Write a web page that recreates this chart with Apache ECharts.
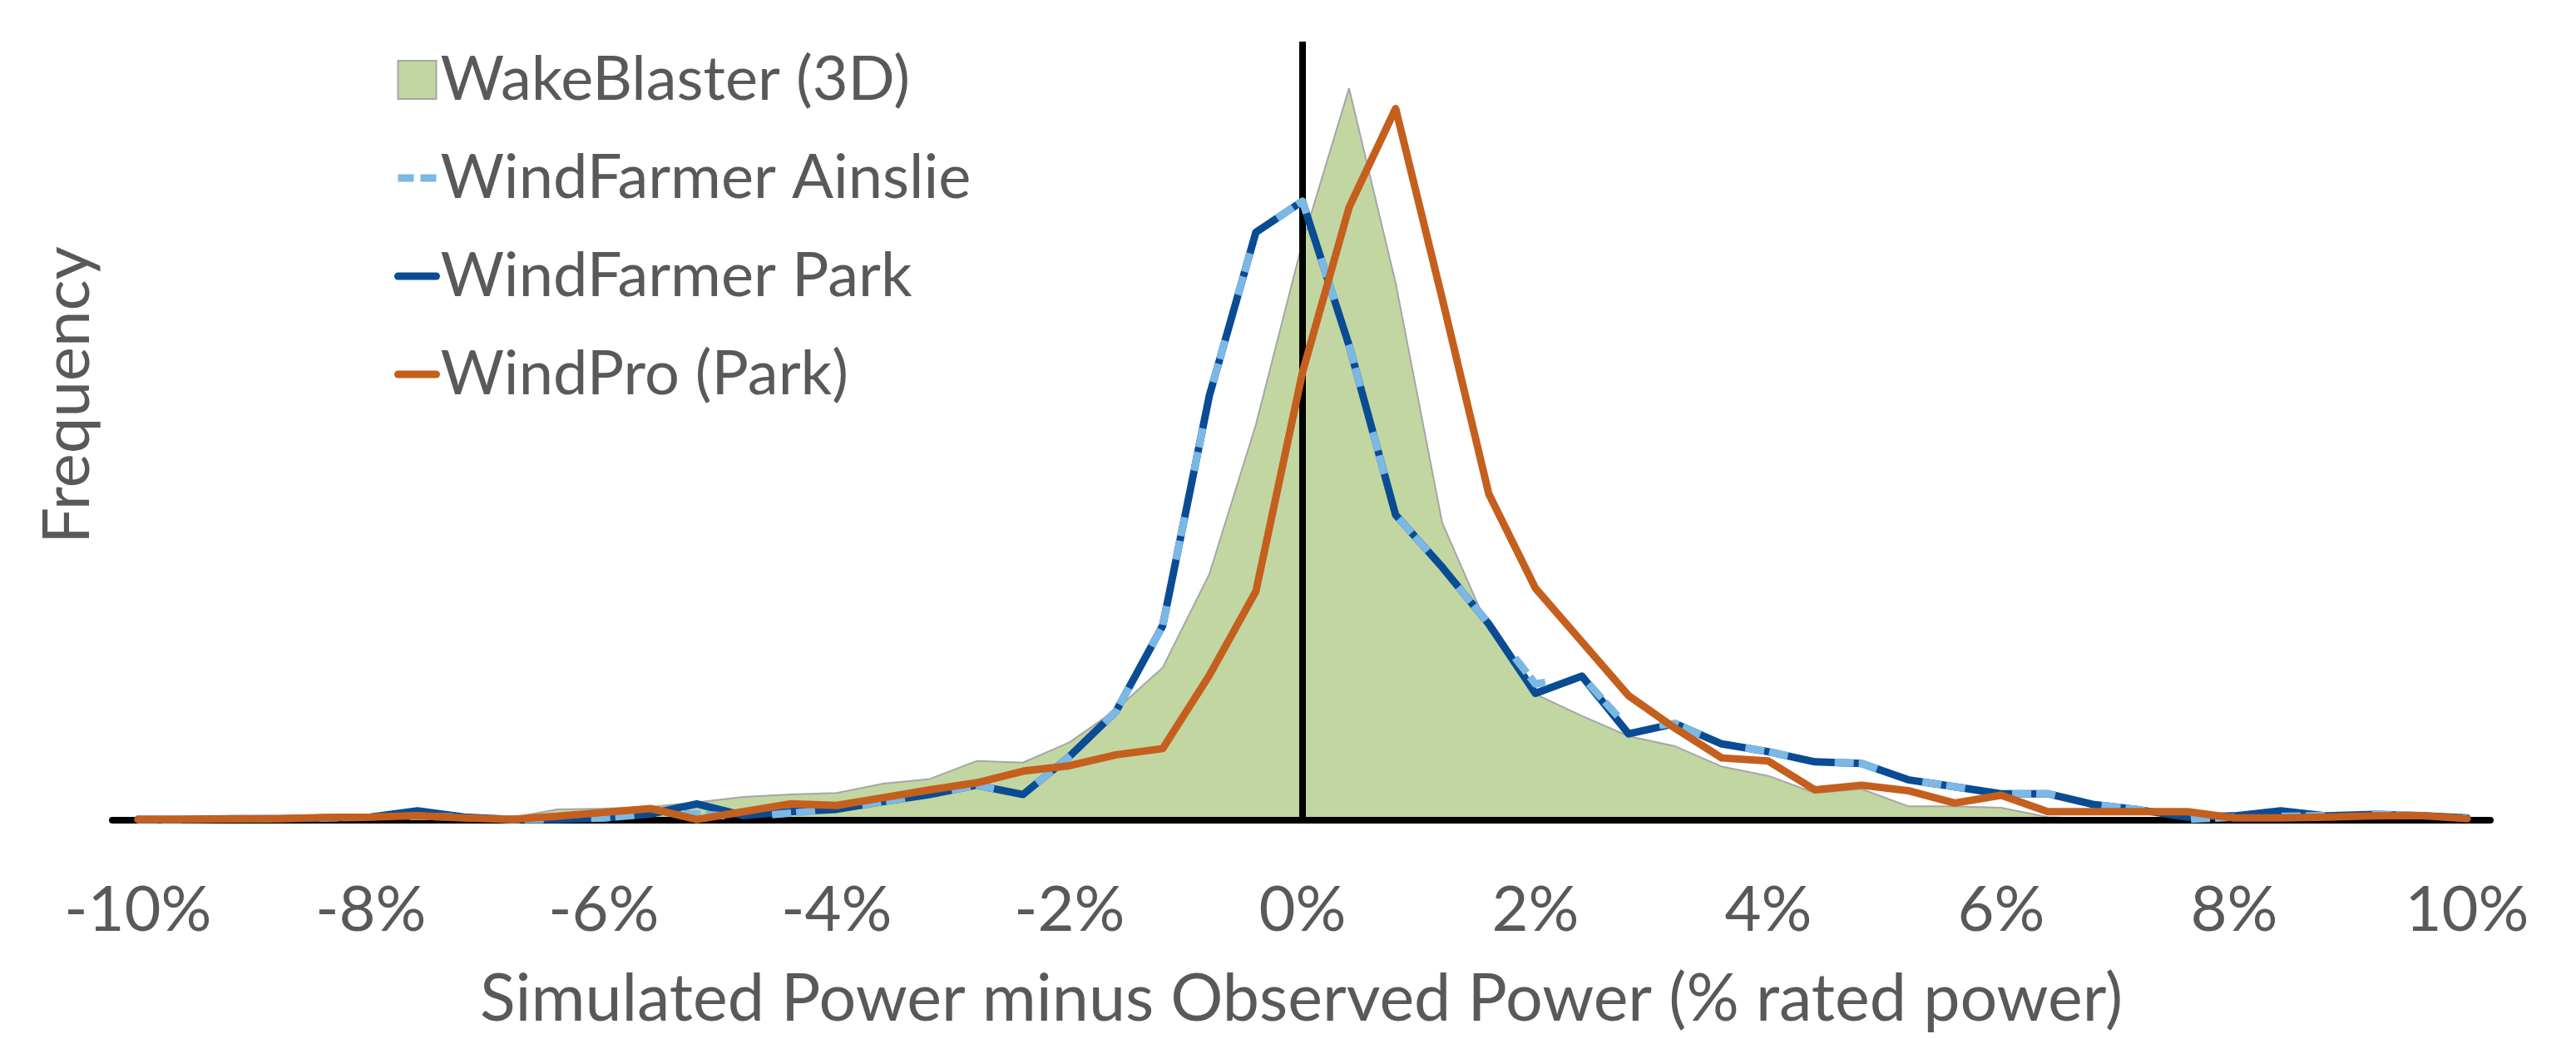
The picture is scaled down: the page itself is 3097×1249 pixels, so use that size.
<!DOCTYPE html>
<html>
<head>
<meta charset="utf-8">
<script src="https://cdn.jsdelivr.net/npm/echarts@6/dist/echarts.min.js"></script>
<style>
html,body{margin:0;padding:0;background:#ffffff;}
#chart{width:3097px;height:1249px;}
</style>
</head>
<body>
<div id="chart"></div>
<script>
// Bin centres (% rated power)
const bins = [-10,-9.6,-9.2,-8.8,-8.4,-8,-7.6,-7.2,-6.8,-6.4,-6,-5.6,-5.2,-4.8,-4.4,-4,-3.6,-3.2,-2.8,-2.4,-2,-1.6,-1.2,-0.8,-0.4,0,0.4,0.8,1.2,1.6,2,2.4,2.8,3.2,3.6,4,4.4,4.8,5.2,5.6,6,6.4,6.8,7.2,7.6,8,8.4,8.8,9.2,9.6,10];

// Frequency (relative units)
const wakeBlaster = [0.1,0.1,0.1,0.15,0.2,0.3,0.4,0.2,0.3,1.4,1.5,1.7,2.3,3.0,3.3,3.5,4.7,5.3,7.6,7.4,10.0,14.2,19.6,31.6,50.8,74.2,94.0,69.0,38.2,24.5,16.2,13.4,10.8,9.5,6.9,5.7,3.5,4.0,1.8,1.8,1.6,0.4,0.2,0.1,0.1,0.1,0.1,0.1,0.1,0.1,0.1];
const windFarmerAinslie = [0.1,0.1,0.2,0.2,0.3,0.4,0.5,0.4,0.1,0.1,0.3,0.8,0.8,0.4,0.9,1.4,2.4,3.3,4.5,3.3,8.2,14.0,25.0,54.5,75.5,79.5,61.0,39.2,32.5,25.2,17.5,18.5,11.8,12.4,9.8,8.8,7.5,7.3,5.2,4.3,3.4,3.4,2.0,1.3,0.1,0.4,0.5,0.6,0.8,0.6,0.3];
const windFarmerPark = [0.1,0.1,0.2,0.2,0.3,0.4,1.2,0.4,0.1,0.1,0.3,0.8,2.1,0.6,1.1,1.4,2.4,3.3,4.5,3.3,8.2,14.0,25.0,54.5,75.5,79.5,61.0,39.2,32.5,25.2,16.3,18.5,11.1,12.4,9.8,8.8,7.5,7.3,5.2,4.3,3.4,3.4,2.0,1.3,0.4,0.55,1.2,0.55,0.75,0.6,0.3];
const windPro = [0.1,0.1,0.15,0.2,0.35,0.4,0.6,0.3,0.1,0.5,1.0,1.5,0.1,1.1,2.1,1.9,2.9,3.9,4.8,6.3,7.0,8.4,9.2,18.6,29.4,57.5,78.7,91.4,67.0,41.9,29.8,22.9,16.0,11.8,8.0,7.6,3.9,4.5,3.8,2.2,3.2,1.1,1.1,1.1,1.1,0.3,0.3,0.4,0.55,0.6,0.2];

// Axis tick labels and texts
const tickValues = [-10,-8,-6,-4,-2,0,2,4,6,8,10];
const seriesNames = ['WakeBlaster (3D)','WindFarmer Ainslie','WindFarmer Park','WindPro (Park)'];
const xAxisTitle = 'Simulated Power minus Observed Power (% rated power)';
const yAxisTitle = 'Frequency';

function pairs(vals){ return bins.map(function(b,i){ return [b, vals[i]]; }); }

const FONT = 'Lato';
const TXT = '#595959';
const GREEN = '#c2d6a1';
const GREY = '#a6a6a6';
const DARKBLUE = '#0a4c94';
const LIGHTBLUE = '#7cb8e4';
const ORANGE = '#c55f1e';
const LW = 9;

const chart = echarts.init(document.getElementById('chart'), null, {renderer:'canvas'});
chart.setOption({
  animation: false,
  backgroundColor: '#ffffff',
  textStyle: {fontFamily: FONT},
  grid: {left: 135, right: 103, top: 50, bottom: 263, containLabel: false},
  legend: {
    orient: 'vertical',
    left: 474, top: 59, padding: 0,
    itemWidth: 46, itemHeight: 46,
    itemGap: 44, itemTextGap: -6,
    selectedMode: false,
    textStyle: {fontSize: 74, color: TXT, fontFamily: FONT},
    data: [
      {name: seriesNames[0], icon: 'rect', itemStyle: {color: GREEN, borderColor: GREY, borderWidth: 2}},
      {name: seriesNames[1], itemStyle: {opacity: 0}, lineStyle: {type: [19, 8], width: LW, color: LIGHTBLUE}},
      {name: seriesNames[2], itemStyle: {opacity: 0}, lineStyle: {width: LW, color: DARKBLUE}},
      {name: seriesNames[3], itemStyle: {opacity: 0}, lineStyle: {width: LW, color: ORANGE}}
    ]
  },
  xAxis: {
    type: 'value', min: -10.22, max: 10.2, z: 3,
    axisLine: {show: true, onZero: false, lineStyle: {color: '#000000', width: 8}},
    axisTick: {show: false},
    splitLine: {show: false},
    axisLabel: {customValues: tickValues, formatter: function(v){ return v + '%'; },
      fontSize: 76, color: TXT, fontFamily: FONT, margin: 70},
    name: xAxisTitle, nameLocation: 'middle', nameGap: 176,
    nameTextStyle: {fontSize: 79, color: TXT, fontFamily: FONT}
  },
  yAxis: {
    type: 'value', min: 0, max: 100,
    axisLine: {show: false}, axisTick: {show: false}, axisLabel: {show: false}, splitLine: {show: false},
    name: yAxisTitle, nameLocation: 'middle', nameGap: 14, nameRotate: 90,
    nameTextStyle: {fontSize: 78, color: TXT, fontFamily: FONT, padding: [0, 0, 0, 86]}
  },
  series: [
    {
      name: seriesNames[0], type: 'line', data: pairs(wakeBlaster), symbol: 'none', z: 2,
      itemStyle: {color: GREEN},
      lineStyle: {color: GREY, width: 2},
      areaStyle: {color: GREEN, opacity: 1},
      markLine: {silent: true, symbol: 'none', z: 3, label: {show: false},
        lineStyle: {color: '#000000', width: 8, type: 'solid'},
        data: [{xAxis: 0}]}
    },
    {
      name: seriesNames[2], type: 'line', data: pairs(windFarmerPark), symbol: 'none', z: 4,
      itemStyle: {color: DARKBLUE},
      lineStyle: {color: DARKBLUE, width: LW, join: 'round', cap: 'round'}
    },
    {
      name: seriesNames[1], type: 'line', data: pairs(windFarmerAinslie), symbol: 'none', z: 4,
      itemStyle: {color: LIGHTBLUE},
      lineStyle: {color: LIGHTBLUE, width: LW, type: [23, 6, 23, 57], join: 'round', cap: 'butt'}
    },
    {
      name: seriesNames[3], type: 'line', data: pairs(windPro), symbol: 'none', z: 4,
      itemStyle: {color: ORANGE},
      lineStyle: {color: ORANGE, width: LW, join: 'round', cap: 'round'}
    }
  ]
});
</script>
</body>
</html>
